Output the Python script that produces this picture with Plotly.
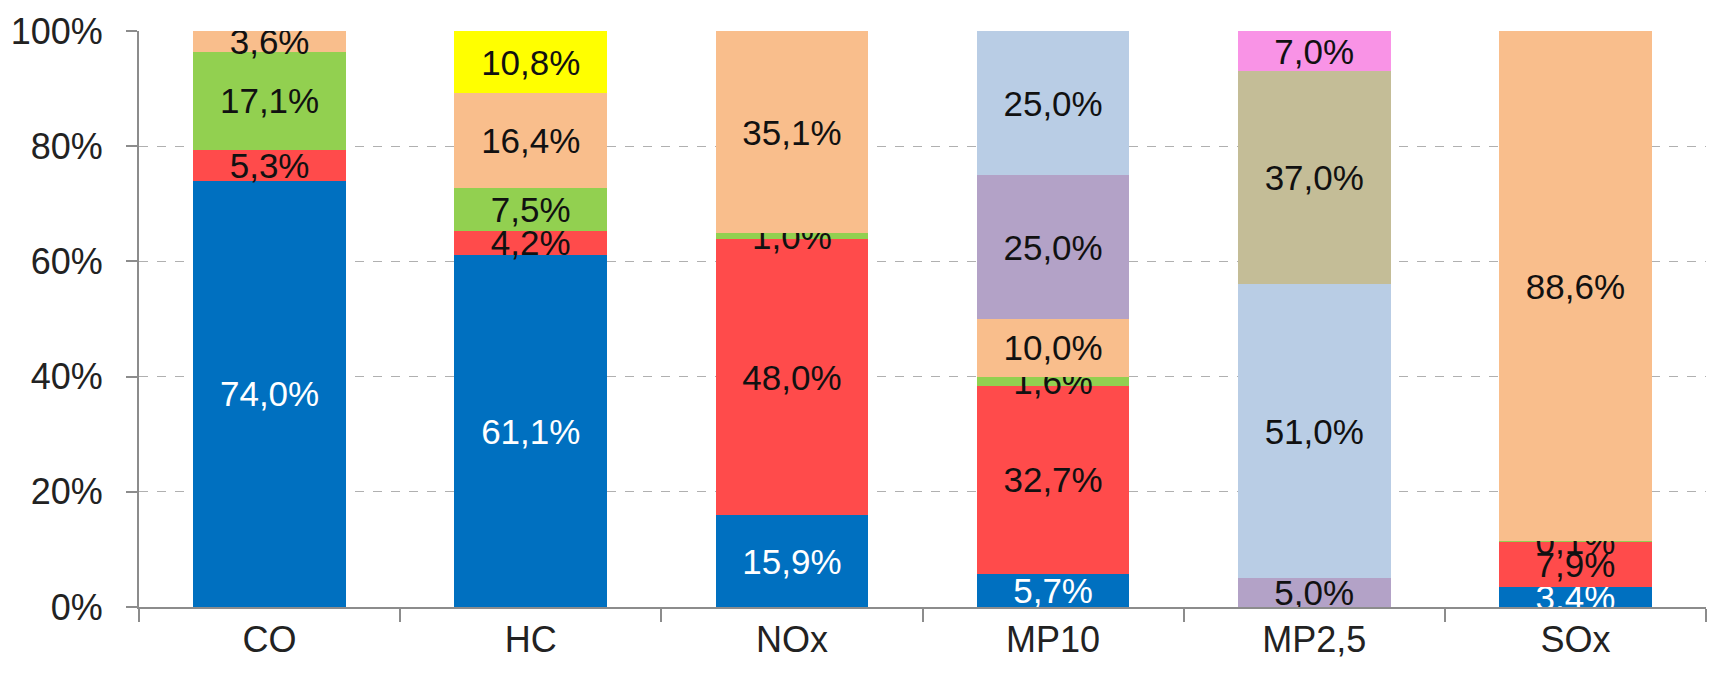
import plotly.graph_objects as go

categories = ["CO", "HC", "NOx", "MP10", "MP2,5", "SOx"]

# series values (percent), bottom to top
serie_azul = [74.0, 61.1, 15.9, 5.7, 0.0, 3.4]
serie_roja = [5.3, 4.2, 48.0, 32.7, 0.0, 7.9]
serie_verde = [17.1, 7.5, 1.0, 1.6, 0.0, 0.1]
serie_naranja = [3.6, 16.4, 35.1, 10.0, 0.0, 88.6]
serie_lila = [0.0, 0.0, 0.0, 25.0, 5.0, 0.0]
serie_celeste = [0.0, 0.0, 0.0, 25.0, 51.0, 0.0]
serie_caqui = [0.0, 0.0, 0.0, 0.0, 37.0, 0.0]
serie_rosa = [0.0, 0.0, 0.0, 0.0, 7.0, 0.0]
serie_amarilla = [0.0, 10.8, 0.0, 0.0, 0.0, 0.0]

y_tick_vals = [0, 20, 40, 60, 80, 100]
y_tick_text = ["0%", "20%", "40%", "60%", "80%", "100%"]

series = [
    ("Serie 1", serie_azul, "#0070C0", "white"),
    ("Serie 2", serie_roja, "#FF4B4B", "#111111"),
    ("Serie 3", serie_verde, "#92D050", "#111111"),
    ("Serie 4", serie_naranja, "#F9BE8C", "#111111"),
    ("Serie 5", serie_lila, "#B3A2C7", "#111111"),
    ("Serie 6", serie_celeste, "#B9CDE5", "#111111"),
    ("Serie 7", serie_caqui, "#C4BD97", "#111111"),
    ("Serie 8", serie_rosa, "#F993E6", "#111111"),
    ("Serie 9", serie_amarilla, "#FFFF00", "#111111"),
]

def fmt(v):
    return (f"{v:.1f}".replace(".", ",") + "%") if v > 0 else ""

FONT = "Liberation Sans, Arial, sans-serif"
FS = 35
TFS = 36

fig = go.Figure()
for name, vals, color, tcolor in series:
    fig.add_trace(go.Bar(
        name=name,
        x=categories,
        y=vals,
        marker=dict(color=color, line=dict(width=0)),
        text=[fmt(v) for v in vals],
        textposition="inside",
        insidetextanchor="middle",
        textangle=0,
        constraintext="none",
        textfont=dict(family=FONT, size=FS, color=tcolor),
        showlegend=False,
    ))

fig.update_layout(
    barmode="stack",
    bargap=0.415,
    width=1717,
    height=676,
    margin=dict(l=139, r=11, t=29, b=69),
    paper_bgcolor="white",
    plot_bgcolor="white",
    uniformtext=dict(minsize=FS, mode="show"),
    font=dict(family=FONT, size=FS, color="#1a1a1a"),
)

fig.update_yaxes(
    range=[0, 100],
    tickvals=y_tick_vals,
    ticktext=y_tick_text,
    showgrid=True,
    gridcolor="#B0B0B0",
    griddash="dash",
    gridwidth=1.2,
    showline=True,
    linecolor="#8C8C8C",
    linewidth=2,
    ticks="outside",
    ticklen=11,
    tickcolor="#8C8C8C",
    tickwidth=2,
    tickfont=dict(family=FONT, size=TFS, color="#222222"),
    ticklabelstandoff=16,
    zeroline=False,
)

fig.update_xaxes(
    showline=True,
    linecolor="#8C8C8C",
    linewidth=2,
    ticks="outside",
    tickson="boundaries",
    ticklen=13,
    tickcolor="#8C8C8C",
    tickwidth=2,
    tickfont=dict(family=FONT, size=TFS, color="#222222"),
)

fig.write_html("out.html")
